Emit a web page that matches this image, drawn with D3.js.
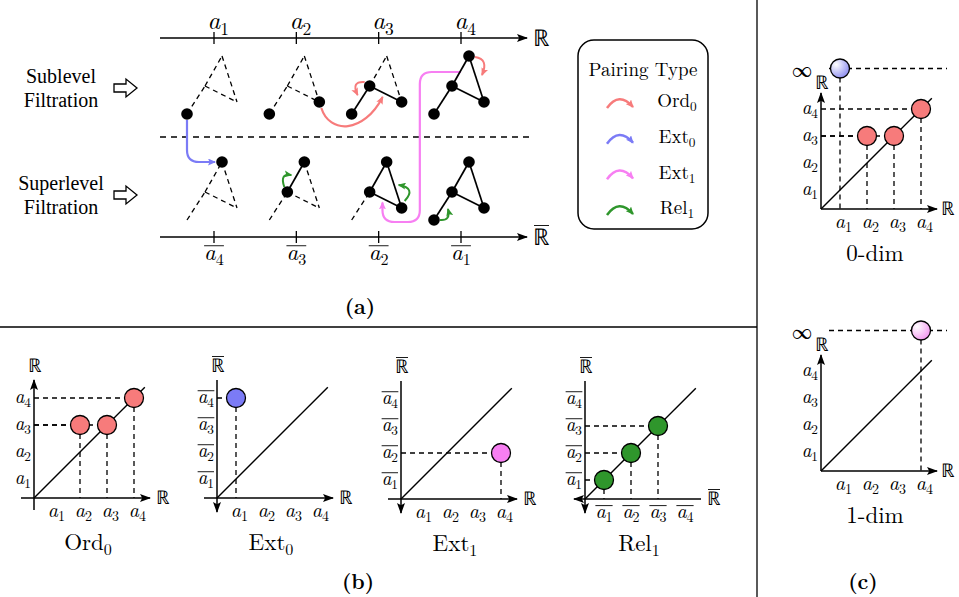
<!DOCTYPE html>
<html>
<head>
<meta charset="utf-8">
<script src="https://cdn.jsdelivr.net/npm/d3@7"></script>
<style>
body{margin:0;background:#fff}
svg text{fill:#000}
</style>
</head>
<body>
<svg id="fig" width="959" height="597"></svg>
<script>
// filtration levels a1..a4 and the overlined levels read along the bottom axis
var levels = [1, 2, 3, 4];
var supLabels = [4, 3, 2, 1];

// simplices present at each step of the two filtrations
var allEdges = ["bl-mid", "mid-top", "top-right", "mid-right"];
var subVerts = [["bl"], ["bl", "right"], ["bl", "mid", "right"], ["bl", "mid", "right", "top"]];
var subEdges = [[], [], ["bl-mid", "mid-right"], ["bl-mid", "mid-top", "top-right", "mid-right"]];
var supVerts = [["top"], ["top", "mid"], ["top", "mid", "right"], ["top", "mid", "right", "bl"]];
var supEdges = [[], ["mid-top"], ["mid-top", "top-right", "mid-right"], ["bl-mid", "mid-top", "top-right", "mid-right"]];

// pairing types
var pairNames = ["Ord", "Ext", "Ext", "Rel"];
var pairSubs = ["0", "0", "1", "1"];
var pairColors = ["#f77b7b", "#7b7bf6", "#f77ff2", "#2f962c"];

// persistence points [birth, death]
var ord0Pts = [[2, 3], [3, 3], [4, 4]];
var ext0Pts = [[1, 4]];
var ext1Pts = [[4, 2]];
var rel1Pts = [[1, 1], [2, 2], [3, 3]];
var dim0Pts = [[2, 3], [3, 3], [4, 4]];
var dim0Inf = [1];
var dim1Pts = [];
var dim1Inf = [4];

var CM = "'Latin Modern Roman', 'Liberation Serif', serif";
var TIMES = "'Liberation Serif', 'Times New Roman', serif";
var svg = d3.select("#fig");
var defs = svg.append("defs");

function txt(g, f) {
  return g.append("text").style("font-family", f || CM);
}

function marker(id, color, w, h) {
  defs.append("marker").attr("id", id)
    .attr("viewBox", "0 0 " + w + " " + h)
    .attr("refX", w - 1).attr("refY", h / 2)
    .attr("markerWidth", w).attr("markerHeight", h)
    .attr("markerUnits", "userSpaceOnUse").attr("orient", "auto")
    .append("path")
    .attr("d", "M0,0L" + w + "," + (h / 2) + "L0," + h + "L" + (w * 0.2) + "," + (h / 2) + "Z")
    .attr("fill", color);
}
marker("ax", "#000", 11, 8);
pairColors.forEach(function(c, i){ marker("pa" + i, c, 8, 7); });

function grad(id, c) {
  var g = defs.append("radialGradient").attr("id", id).attr("cx", "30%").attr("cy", "30%").attr("r", "75%");
  g.append("stop").attr("offset", "0%").attr("stop-color", "#fff");
  g.append("stop").attr("offset", "100%").attr("stop-color", c);
}
grad("gBlue", "#8f8ff0");
grad("gPink", "#f39af0");

// a_i label, y is the baseline
function aLabel(g, x, y, idx, fs, bar, anchor) {
  var t = txt(g).attr("y", y).style("font-size", fs + "px");
  t.append("tspan").style("font-style", "italic").text("a");
  t.append("tspan").attr("dy", fs * 0.22).style("font-size", (fs * 0.7) + "px").text(idx);
  if (anchor == "a") t.attr("x", x - fs * 0.26);
  else t.attr("x", x).attr("text-anchor", anchor);
  if (bar) {
    var b = t.node().getBBox();
    g.append("line").attr("x1", b.x).attr("x2", b.x + b.width)
      .attr("y1", y - fs * 0.62).attr("y2", y - fs * 0.62)
      .attr("stroke", "#000").attr("stroke-width", 0.9);
  }
}
function rLabel(g, x, y, fs, bar) {
  var t = txt(g).attr("x", x).attr("y", y + fs * 0.34)
    .attr("text-anchor", "middle").style("font-size", fs + "px").text("\u211D");
  if (bar) {
    var b = t.node().getBBox();
    g.append("line").attr("x1", b.x + 1).attr("x2", b.x + b.width - 1)
      .attr("y1", y - fs * 0.5).attr("y2", y - fs * 0.5)
      .attr("stroke", "#000").attr("stroke-width", 0.9);
  }
}
function subText(g, x, y, name, sub, fs) {
  var t = txt(g).attr("x", x).attr("y", y + fs * 0.33)
    .attr("text-anchor", "middle").style("font-size", fs + "px");
  t.append("tspan").text(name);
  t.append("tspan").attr("dy", fs * 0.22).style("font-size", (fs * 0.7) + "px").text(sub);
  return t;
}
function plain(g, x, y, s, fs, bold, f) {
  return txt(g, f).attr("x", x).attr("y", y).attr("text-anchor", "middle")
    .attr("dominant-baseline", "central").style("font-size", fs + "px")
    .style("font-weight", bold ? "bold" : null).text(s);
}

// separators
svg.append("line").attr("x1", 757).attr("x2", 757).attr("y1", 0).attr("y2", 597)
  .attr("stroke", "#000").attr("stroke-width", 1.3);
svg.append("line").attr("x1", 0).attr("x2", 757).attr("y1", 327).attr("y2", 327)
  .attr("stroke", "#000").attr("stroke-width", 1.3);

// ---------- panel (a) ----------
var gA = svg.append("g");
var xA = d3.scaleLinear().domain([1, 4]).range([214, 461]);
var rowTop = {sub: 56, sup: 162};
var axisY = {sub: 38, sup: 237};
var shape = {top: [8, 0], mid: [-9, 30], right: [23, 46], bl: [-27, 58]};

function V(row, step, v) {
  return [xA(levels[step]) + shape[v][0], rowTop[row] + shape[v][1]];
}
function add(p, dx, dy) { return [p[0] + dx, p[1] + dy]; }

gA.append("line").attr("x1", 160).attr("x2", 530).attr("y1", 137).attr("y2", 137)
  .attr("stroke", "#000").attr("stroke-width", 1.3).attr("stroke-dasharray", "6,5");

["sub", "sup"].forEach(function(row){
  var y = axisY[row];
  gA.append("line").attr("x1", 160).attr("x2", 527).attr("y1", y).attr("y2", y)
    .attr("stroke", "#000").attr("stroke-width", 1.4).attr("marker-end", "url(#ax)");
  gA.selectAll(".tk-" + row).data(levels).enter().append("line")
    .attr("x1", function(d){ return xA(d); }).attr("x2", function(d){ return xA(d); })
    .attr("y1", y - 6).attr("y2", y + 6).attr("stroke", "#000").attr("stroke-width", 1.3);
  rLabel(gA, 541, y, 23, row == "sup");
});
levels.forEach(function(d){ aLabel(gA, xA(d), 29, d, 25, false, "a"); });
supLabels.forEach(function(d, i){ aLabel(gA, xA(levels[i]), 260, d, 23, true, "middle"); });

// filtration names with hollow arrows
[["Sublevel", "Filtration", 88], ["Superlevel", "Filtration", 195]].forEach(function(r){
  plain(gA, 61, r[2] - 12, r[0], 20, false, TIMES);
  plain(gA, 61, r[2] + 12, r[1], 20, false, TIMES);
  gA.append("path").attr("transform", "translate(114," + r[2] + ")")
    .attr("d", "M0,-4H12V-9L23,0L12,9V4H0Z")
    .attr("fill", "#fff").attr("stroke", "#000").attr("stroke-width", 1.3);
});

// pairing arrows
function pairPath(d, ci, w) {
  gA.append("path").attr("d", d).attr("fill", "none")
    .attr("stroke", pairColors[ci]).attr("stroke-width", w || 2.2)
    .attr("marker-end", "url(#pa" + ci + ")");
}
function P(p){ return p[0] + "," + p[1]; }
(function(){
  var a = V("sub", 1, "right");
  var m1 = V("sub", 2, "mid"), r1 = V("sub", 2, "right");
  var m = [(m1[0] + r1[0]) / 2, (m1[1] + r1[1]) / 2];
  pairPath("M" + P(add(a, 2, 6)) + "C" + P(add(a, 10, 32)) + " " + P(add(m, -22, 40)) + " " + P(add(m, -3, 3)), 0);
  var mid3 = V("sub", 2, "mid");
  pairPath("M" + P(add(mid3, -5, -4)) + "Q" + P(add(mid3, -19, -5)) + " " + P(add(mid3, -12, 9)), 0, 2);
  var top4 = V("sub", 3, "top");
  pairPath("M" + P(add(top4, 6, 1)) + "Q" + P(add(top4, 20, 3)) + " " + P(add(top4, 13, 19)), 0, 2);

  var b = V("sub", 0, "bl"), t = V("sup", 0, "top");
  pairPath("M" + b[0] + "," + (b[1] + 6) + "V" + (t[1] - 12) + "Q" + b[0] + "," + t[1] + " " + (b[0] + 12) + "," + t[1] + "H" + (t[0] - 7), 1);

  var xv = (xA(3) + xA(4)) / 2;
  var em = V("sup", 2, "mid"), er = V("sup", 2, "right");
  var tx = em[0] + (er[0] - em[0]) * 0.4, ty = em[1] + (er[1] - em[1]) * 0.4;
  var yb = 222, yt = 72;
  pairPath("M461," + yt + "H" + (xv + 12) + "Q" + xv + "," + yt + " " + xv + "," + (yt + 12) +
    "V" + (yb - 12) + "Q" + xv + "," + yb + " " + (xv - 12) + "," + yb +
    "H" + (tx + 12) + "Q" + tx + "," + yb + " " + tx + "," + (yb - 12) + "V" + (ty + 4), 2);

  var m3 = V("sup", 1, "mid");
  pairPath("M" + P(add(m3, -3, -5)) + "Q" + P(add(m3, -8, -19)) + " " + P(add(m3, 4, -17)), 3, 2);
  var r2 = V("sup", 2, "right");
  pairPath("M" + P(add(r2, 3, -7)) + "Q" + P(add(r2, 15, -20)) + " " + P(add(r2, -3, -23)), 3, 2);
  var b1 = V("sup", 3, "bl");
  pairPath("M" + P(add(b1, 6, 0)) + "Q" + P(add(b1, 17, 1)) + " " + P(add(b1, 14, -11)), 3, 2);
})();

function drawComplex(row, step, verts, edges) {
  allEdges.forEach(function(e){
    var ab = e.split("-"), p = V(row, step, ab[0]), q = V(row, step, ab[1]);
    var solid = edges.indexOf(e) >= 0;
    gA.append("line").attr("x1", p[0]).attr("y1", p[1]).attr("x2", q[0]).attr("y2", q[1])
      .attr("stroke", "#000").attr("stroke-width", solid ? 1.7 : 1.3)
      .attr("stroke-dasharray", solid ? null : "5,4");
  });
  gA.selectAll(null).data(verts).enter().append("circle")
    .attr("cx", function(v){ return V(row, step, v)[0]; })
    .attr("cy", function(v){ return V(row, step, v)[1]; })
    .attr("r", 5.8).attr("fill", "#000");
}
levels.forEach(function(d, i){
  drawComplex("sub", i, subVerts[i], subEdges[i]);
  drawComplex("sup", i, supVerts[i], supEdges[i]);
});

// legend
var gL = svg.append("g");
gL.append("rect").attr("x", 578).attr("y", 40).attr("width", 130).attr("height", 189)
  .attr("rx", 16).attr("fill", "none").attr("stroke", "#000").attr("stroke-width", 1.5);
plain(gL, 643, 68, "Pairing Type", 19);
var legY = d3.scalePoint().domain(d3.range(pairNames.length)).range([101, 208]);
pairNames.forEach(function(n, i){
  var y = legY(i);
  gL.append("path").attr("d", "M607," + (y + 7) + "Q619," + (y - 10) + " 633," + (y + 6))
    .attr("fill", "none").attr("stroke", pairColors[i]).attr("stroke-width", 2.5)
    .attr("marker-end", "url(#pa" + i + ")");
  subText(gL, 677, y, n, pairSubs[i], 19);
});

plain(svg, 360, 305, "(a)", 21, true);
plain(svg, 358, 580, "(b)", 21, true);
plain(svg, 863, 580, "(c)", 21, true);

// ---------- persistence diagrams (b), (c) ----------
var s = d3.scaleLinear().domain([1, 4]).range([19, 100]);
var infVal = 5.5, diagEnd = 4.4;

var plots = [
  {o: [34, 498], pts: ord0Pts, inf: [], fill: pairColors[0], xBar: false, yBar: false, xArr: "right", yArr: "up", ext: "b", title: ["Ord", "0"]},
  {o: [217, 498], pts: ext0Pts, inf: [], fill: pairColors[1], xBar: false, yBar: true, xArr: "right", yArr: "down", ext: "b", title: ["Ext", "0"]},
  {o: [401, 499], pts: ext1Pts, inf: [], fill: pairColors[2], xBar: false, yBar: true, xArr: "right", yArr: "down", ext: "b", title: ["Ext", "1"]},
  {o: [585, 499], pts: rel1Pts, inf: [], fill: pairColors[3], xBar: true, yBar: true, xArr: "left", yArr: "down", ext: "b", title: ["Rel", "1"]},
  {o: [821, 209], pts: dim0Pts, inf: dim0Inf, fill: pairColors[0], infFill: "url(#gBlue)", xBar: false, yBar: false, xArr: "right", yArr: "up", ext: "c", title: ["0-dim", ""]},
  {o: [821, 471], pts: dim1Pts, inf: dim1Inf, fill: pairColors[0], infFill: "url(#gPink)", xBar: false, yBar: false, xArr: "right", yArr: "up", ext: "c", title: ["1-dim", ""]}
];

plots.forEach(function(pl){
  var g = svg.append("g").attr("transform", "translate(" + pl.o[0] + "," + pl.o[1] + ")");
  var xr = pl.ext == "b" ? [-13, 116] : [0, 116];
  var yr = pl.ext == "b" ? [-12, 118] : [0, 116];
  var dash = "5,4";
  var line = function(x1, y1, x2, y2){
    return g.append("line").attr("x1", x1).attr("y1", y1).attr("x2", x2).attr("y2", y2).attr("stroke", "#000");
  };

  // dashed guides
  pl.pts.forEach(function(p){
    line(s(p[0]), -s(p[1]), s(p[0]), 0).attr("stroke-width", 1.3).attr("stroke-dasharray", dash);
    line(0, -s(p[1]), s(p[0]), -s(p[1])).attr("stroke-width", 1.3).attr("stroke-dasharray", dash);
  });
  if (pl.ext == "c") {
    line(8, -s(infVal), 126, -s(infVal)).attr("stroke-width", 1.3).attr("stroke-dasharray", dash);
    plain(g, -19, -s(infVal), "\u221E", 20);
    pl.inf.forEach(function(b){
      line(s(b), -s(infVal), s(b), 0).attr("stroke-width", 1.3).attr("stroke-dasharray", dash);
    });
  }

  // axes
  var xa = pl.xArr == "right" ? line(xr[0], 0, xr[1], 0) : line(xr[1], 0, xr[0] + 2, 0);
  xa.attr("stroke-width", 1.5).attr("marker-end", "url(#ax)");
  var ya = pl.yArr == "up" ? line(0, -yr[0], 0, -yr[1]) : line(0, -yr[1], 0, -yr[0] + 2);
  ya.attr("stroke-width", 1.5).attr("marker-end", "url(#ax)");
  rLabel(g, pl.ext == "b" ? 129 : 127, 0, 19, pl.xBar);
  rLabel(g, 1, pl.ext == "b" ? -132 : -126, 19, pl.yBar);

  // diagonal
  var dl = d3.line().x(function(d){ return s(d); }).y(function(d){ return -s(d); });
  g.append("path").attr("d", dl([s.invert(0), diagEnd])).attr("stroke", "#000")
    .attr("stroke-width", 1.4).attr("fill", "none");

  // tick labels
  levels.forEach(function(d){
    aLabel(g, s(d), 19, d, 20, pl.xBar, pl.xBar ? "middle" : "a");
    aLabel(g, -3, -s(d) + 4.5, d, 19, pl.yBar, "end");
  });

  // points
  g.selectAll(null).data(pl.pts).enter().append("circle")
    .attr("cx", function(p){ return s(p[0]); }).attr("cy", function(p){ return -s(p[1]); })
    .attr("r", 9.5).attr("fill", pl.fill).attr("stroke", "#000").attr("stroke-width", 1.3);
  g.selectAll(null).data(pl.inf).enter().append("circle")
    .attr("cx", function(b){ return s(b); }).attr("cy", -s(infVal))
    .attr("r", 9.5).attr("fill", pl.infFill).attr("stroke", "#000").attr("stroke-width", 1.3);

  subText(g, 54, 44, pl.title[0], pl.title[1], 23);
});
</script>
</body>
</html>
